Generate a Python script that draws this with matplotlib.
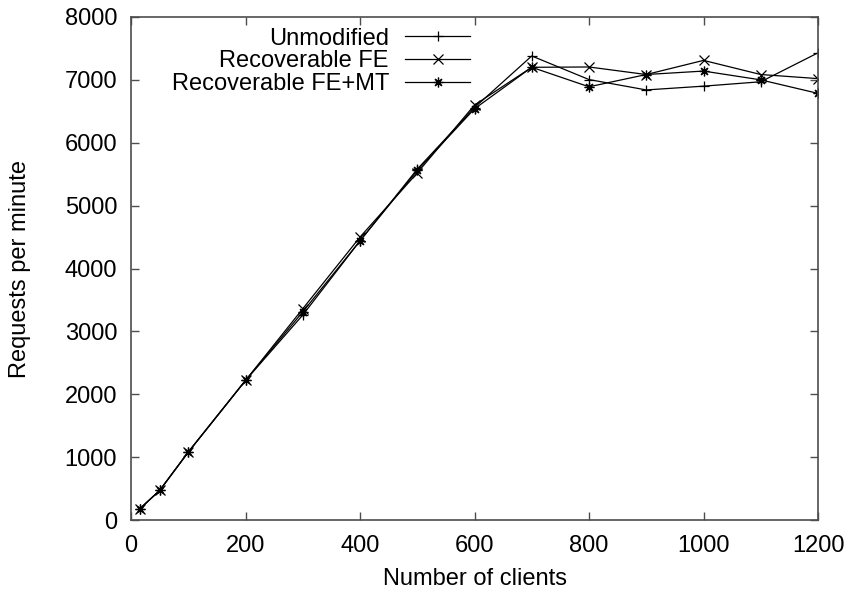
import matplotlib
matplotlib.use("Agg")
import matplotlib.pyplot as plt

# client counts and throughput (requests per minute)
clients = [15, 50, 100, 200, 300, 400, 500, 600, 700, 800, 900, 1000, 1100, 1200]
unmodified = [175, 470, 1080, 2220, 3260, 4440, 5580, 6560, 7380, 7005, 6840, 6900, 6970, 7430]
recov_fe = [175, 470, 1080, 2220, 3360, 4500, 5520, 6600, 7200, 7205, 7085, 7310, 7085, 7020]
recov_fe_mt = [175, 470, 1080, 2220, 3310, 4440, 5560, 6540, 7200, 6890, 7085, 7140, 7000, 6785]

series = [
    ("Unmodified", unmodified, "+"),
    ("Recoverable FE", recov_fe, "x"),
    ("Recoverable FE+MT", recov_fe_mt, (8, 2, 0)),
]

plt.rcParams["font.family"] = ["Liberation Sans", "DejaVu Sans"]

fig = plt.figure(figsize=(8.49, 5.90), dpi=100)
ax = fig.add_axes([0.1543, 0.1186, 0.9635 - 0.1543, 0.9712 - 0.1186])

for label, vals, mk in series:
    ax.plot(clients, vals, color="black", lw=0.9, marker=mk,
            markersize=7, markeredgewidth=0.9, label=label)

ax.set_xlim(0, 1200)
ax.set_ylim(0, 8000)
ax.set_xticks(range(0, 1201, 200))
ax.set_yticks(range(0, 8001, 1000))
ax.tick_params(direction="in", length=6, width=1, top=True, right=True,
               labelsize=17, color="0.3")
ax.tick_params(axis="x", pad=11)
ax.tick_params(axis="y", pad=10)
for sp in ax.spines.values():
    sp.set_color("0.3")
    sp.set_linewidth(1.2)

ax.set_xlabel("Number of clients", fontsize=17, labelpad=8)
ax.set_ylabel("Requests per minute", fontsize=17, labelpad=24)

ax.legend(loc="upper right", bbox_to_anchor=(0.4934, 0.979), markerfirst=False,
          frameon=False, fontsize=17, handlelength=2.75, handletextpad=0.68,
          labelspacing=0.03, borderpad=0.0, borderaxespad=0.0)

fig.savefig("out.png", dpi=100)
